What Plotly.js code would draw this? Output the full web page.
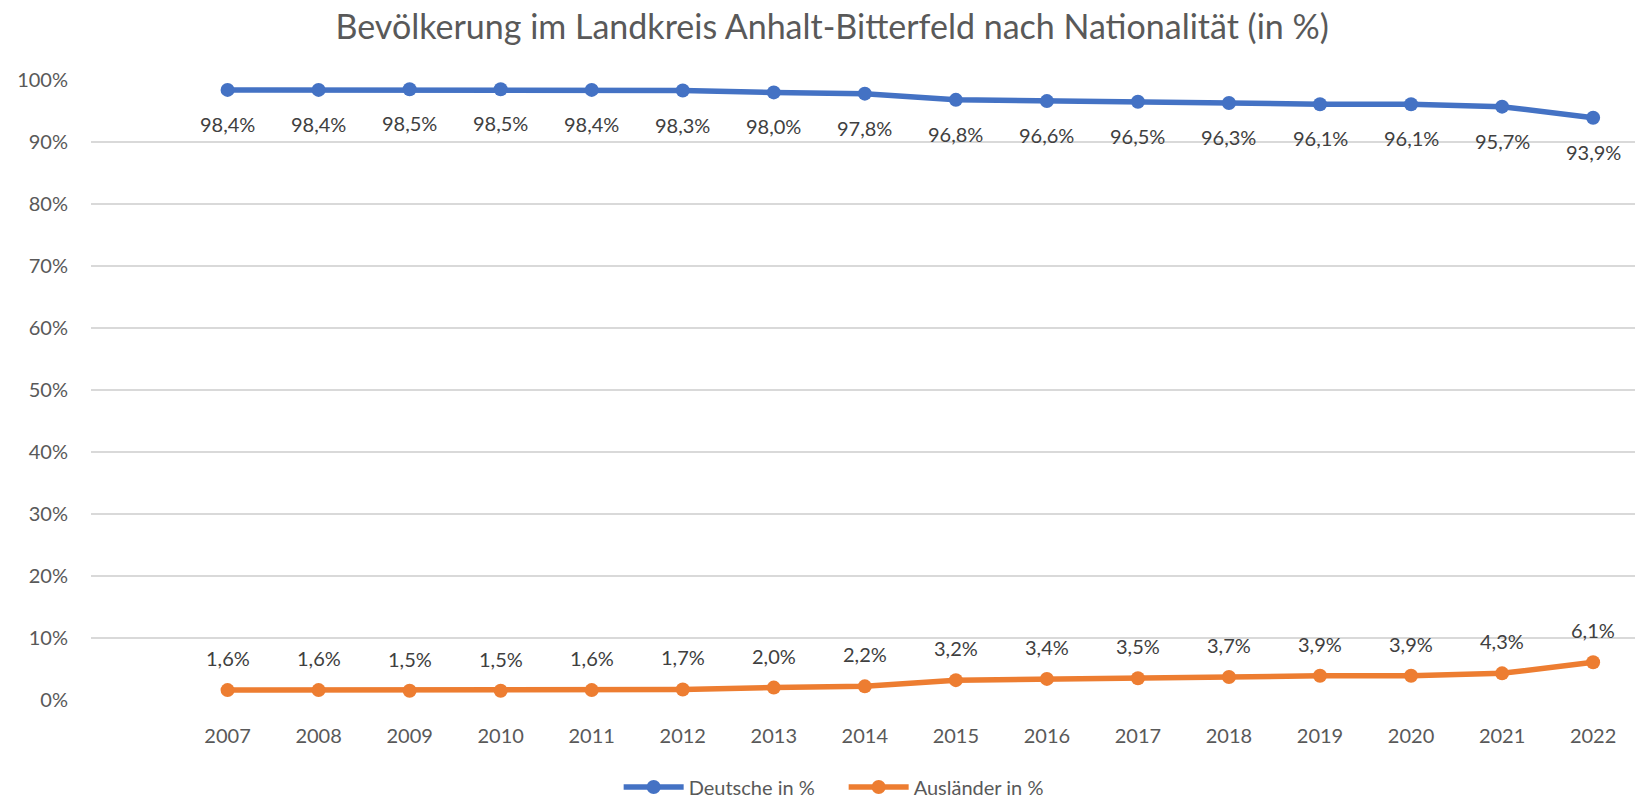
<!DOCTYPE html>
<html><head><meta charset="utf-8">
<script src="https://cdn.plot.ly/plotly-3.0.1.min.js"></script>
<style>body{margin:0;background:#fff}#chart{width:1635px;height:798px}</style>
</head><body><div id="chart"></div>
<script>
const years = ['2007','2008','2009','2010','2011','2012','2013','2014','2015','2016','2017','2018','2019','2020','2021','2022'];
const deutsche = [98.4,98.4,98.5,98.5,98.4,98.3,98.0,97.8,96.8,96.6,96.5,96.3,96.1,96.1,95.7,93.9];
const auslaender = [1.6,1.6,1.5,1.5,1.6,1.7,2.0,2.2,3.2,3.4,3.5,3.7,3.9,3.9,4.3,6.1];
const yTickVals = [0,10,20,30,40,50,60,70,80,90,100];

const FONT = 'Lato, "Open Sans", sans-serif';
const TXT = '#595959';
const fmt = v => v.toFixed(1).replace('.', ',') + '%';
const idx = years.map((_, i) => i);

const traces = [
  {x: idx, y: deutsche, name: 'Deutsche in %', mode: 'lines+markers',
   line: {color: '#4472C4', width: 5.5}, marker: {color: '#4472C4', size: 14}, cliponaxis: false},
  {x: idx, y: auslaender, name: 'Ausländer in %', mode: 'lines+markers',
   line: {color: '#ED7D31', width: 5.5}, marker: {color: '#ED7D31', size: 14}, cliponaxis: false}
];

const annotations = [];
deutsche.forEach((v, i) => annotations.push({x: i, y: v, xref: 'x', yref: 'y', text: fmt(v), showarrow: false,
  yshift: -34, font: {family: FONT, size: 20, color: '#404040'}}));
auslaender.forEach((v, i) => annotations.push({x: i, y: v, xref: 'x', yref: 'y', text: fmt(v), showarrow: false,
  yshift: 32, font: {family: FONT, size: 20, color: '#404040'}}));

const layout = {
  width: 1635, height: 798,
  paper_bgcolor: '#fff', plot_bgcolor: '#fff',
  margin: {l: 91, r: 0, t: 80, b: 98},
  font: {family: FONT, color: TXT},
  title: {text: 'Bevölkerung im Landkreis Anhalt-Bitterfeld nach Nationalität (in %)',
    font: {family: FONT, size: 34, color: TXT}, x: 0.509, xref: 'container', xanchor: 'center',
    y: 1 - 27/798, yref: 'container', yanchor: 'middle'},
  xaxis: {range: [-1.5, 15.46], tickvals: idx, ticktext: years, showgrid: false, zeroline: false,
    showline: false, ticks: '', ticklabelstandoff: 22, tickfont: {family: FONT, size: 20, color: TXT}, fixedrange: true},
  yaxis: {range: [0, 100], tickvals: yTickVals, ticktext: yTickVals.map(v => v + '%'), showgrid: true,
    gridcolor: '#D9D9D9', gridwidth: 2, zeroline: false, showline: false, ticks: '', ticklabelstandoff: 22,
    tickfont: {family: FONT, size: 20, color: TXT}, fixedrange: true},
  showlegend: true,
  legend: {orientation: 'h', x: 0.516, xref: 'container', xanchor: 'center', y: 1 - 787/798, yref: 'container',
    yanchor: 'middle', font: {family: FONT, size: 20, color: TXT}, entrywidth: 150, itemwidth: 60},
  annotations: annotations
};
Plotly.newPlot('chart', traces, layout, {displayModeBar: false, staticPlot: true});
</script></body></html>
